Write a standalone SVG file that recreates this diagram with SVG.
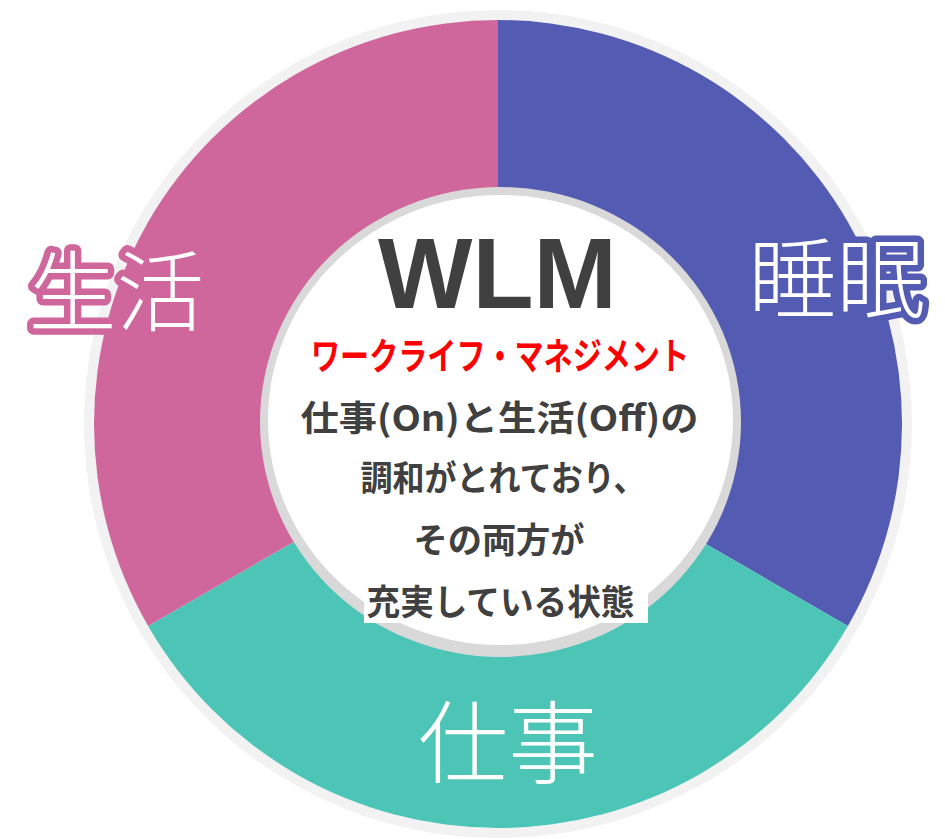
<svg xmlns="http://www.w3.org/2000/svg" width="945" height="839" viewBox="0 0 945 839">
<style>
.lbl{font-family:"Noto Sans CJK JP","Noto Sans",sans-serif;font-weight:300;fill:#ffffff;text-anchor:middle}
.halo{paint-order:stroke;stroke-width:13;stroke-linejoin:round}
.body{font-family:"Noto Sans CJK JP","Noto Sans",sans-serif;font-weight:700;fill:#404040;font-size:35px}
</style>
<rect width="945" height="839" fill="#ffffff"/>
<g id="ring">
<circle cx="498" cy="424" r="409" fill="none" stroke="#f2f2f2" stroke-width="10"/>
</g>
<g id="seg-sleep">
<path d="M498,424 L498,20 A404,404 0 0 1 847.9,626 Z" fill="#545bb3"/>
</g>
<g id="seg-work">
<path d="M498,424 L847.9,626 A404,404 0 0 1 148.1,626 Z" fill="#4cc4b6"/>
</g>
<g id="seg-life">
<path d="M498,424 L148.1,626 A404,404 0 0 1 498,20 Z" fill="#cf679d"/>
</g>
<g id="label-life">
<text class="lbl halo" x="116.5" y="324" font-size="88" stroke="#cf679d">生活</text>
</g>
<g id="label-sleep">
<text class="lbl halo" x="836.5" y="311" font-size="88" stroke="#545bb3">睡眠</text>
</g>
<g id="label-work">
<text class="lbl" x="508" y="776" font-size="90">仕事</text>
</g>
<g id="center">
<ellipse cx="500.5" cy="422" rx="240.5" ry="235" fill="#d9d9d9"/>
<ellipse cx="500.5" cy="420" rx="232.5" ry="225" fill="#ffffff"/>
<rect x="364" y="578" width="284" height="45" fill="#ffffff"/>
<text x="497.5" y="308" text-anchor="middle" font-family="'Liberation Sans',Arial,sans-serif" font-weight="700" font-size="100" fill="#404040">WLM</text>
<text x="311" y="370" textLength="378" lengthAdjust="spacingAndGlyphs" font-family="'Noto Sans CJK JP','Noto Sans',sans-serif" font-weight="700" font-size="37" fill="#ff0000">ワークライフ・マネジメント</text>
<text class="body" x="300.5" y="431" textLength="398" lengthAdjust="spacingAndGlyphs">仕事(On)と生活(Off)の</text>
<text class="body" x="360.5" y="491" textLength="285" lengthAdjust="spacingAndGlyphs">調和がとれており、</text>
<text class="body" x="413.5" y="553" textLength="171" lengthAdjust="spacingAndGlyphs">その両方が</text>
<text class="body" x="366.5" y="615" textLength="268" lengthAdjust="spacingAndGlyphs">充実している状態</text>
</g>
</svg>
